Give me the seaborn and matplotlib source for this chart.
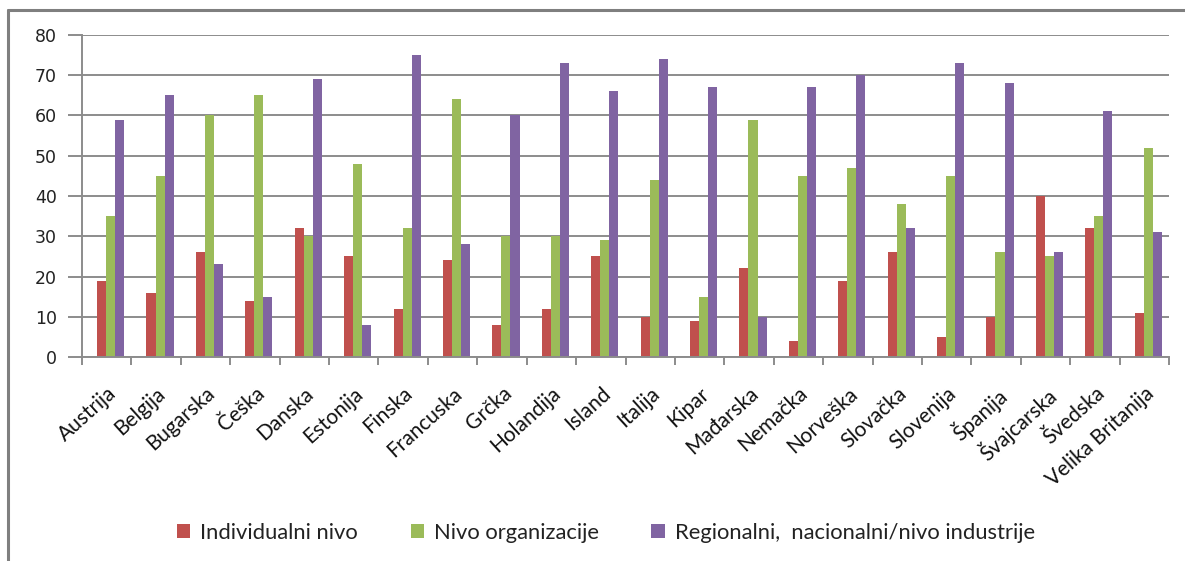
import matplotlib
matplotlib.use("Agg")
import matplotlib.pyplot as plt
import seaborn as sns
import pandas as pd
import numpy as np
from matplotlib.lines import Line2D
from matplotlib.patches import Patch

countries = ["Austrija", "Belgija", "Bugarska", "Češka", "Danska", "Estonija",
             "Finska", "Francuska", "Grčka", "Holandija", "Island", "Italija",
             "Kipar", "Mađarska", "Nemačka", "Norveška", "Slovačka", "Slovenija",
             "Španija", "Švajcarska", "Švedska", "Velika Britanija"]
individualni = [19, 16, 26, 14, 32, 25, 12, 24, 8, 12, 25, 10,
                9, 22, 4, 19, 26, 5, 10, 40, 32, 11]
organizacija = [35, 45, 60, 65, 30, 48, 32, 64, 30, 30, 29, 44,
                15, 59, 45, 47, 38, 45, 26, 25, 35, 52]
regionalni = [59, 65, 23, 15, 69, 8, 75, 28, 60, 73, 66, 74,
              67, 10, 67, 70, 32, 73, 68, 26, 61, 31]
series_names = ["Individualni nivo", "Nivo organizacije",
                "Regionalni,  nacionalni/nivo industrije"]
colors = ["#C0504D", "#9BBB59", "#8064A2"]
yticks = [0, 10, 20, 30, 40, 50, 60, 70, 80]

df = pd.DataFrame({
    "Zemlja": countries * 3,
    "Nivo": sum([[s] * len(countries) for s in series_names], []),
    "Vrednost": individualni + organizacija + regionalni,
})

sns.set_theme(style="white")
plt.rcParams["font.family"] = ["Lato", "DejaVu Sans"]

fig = plt.figure(figsize=(11.85, 5.61), dpi=100)
ax = fig.add_axes([82 / 1185, 1 - 357 / 561, (1169 - 82) / 1185, (357 - 35) / 561])

sns.barplot(data=df, x="Zemlja", y="Vrednost", hue="Nivo", order=countries,
            hue_order=series_names, palette=colors, width=0.55, gap=0,
            saturation=1, legend=False, ax=ax, edgecolor="none")

# bar clusters sit slightly right of the category centre
for bar in ax.patches:
    bar.set_x(bar.get_x() + 0.08)

ax.set_ylim(0, 80)
ax.set_xlim(-0.5, len(countries) - 0.5)
ax.set_yticks(yticks)
ax.set_yticklabels([str(v) for v in yticks], fontfamily="DejaVu Sans", fontsize=12.5,
                   color="#222222")
ax.yaxis.grid(True, color="#8c8c8c", linewidth=1.4)
ax.set_axisbelow(True)
ax.set_xlabel("")
ax.set_ylabel("")

for side in ["top", "right"]:
    ax.spines[side].set_visible(False)
for side in ["left", "bottom"]:
    ax.spines[side].set_color("#8c8c8c")
    ax.spines[side].set_linewidth(1.4)

ax.tick_params(axis="y", which="major", length=10, width=1.4, color="#8c8c8c",
               direction="out", pad=8, left=True)
ax.set_xticks(np.arange(len(countries)))
ax.set_xticklabels(countries, rotation=42, ha="right", rotation_mode="anchor",
                   fontsize=15, color="#111111")
ax.tick_params(axis="x", which="major", length=0, pad=19)
ax.set_xticks(np.arange(len(countries) + 1) - 0.5, minor=True)
ax.tick_params(axis="x", which="minor", length=6, width=1.4, color="#8c8c8c",
               direction="out", bottom=True)

handles = [Patch(facecolor=c, edgecolor="none") for c in colors]
fig.legend(handles, series_names, loc="center", ncol=3,
           bbox_to_anchor=(606 / 1185, 1 - 533 / 561), frameon=False,
           handlelength=0.6, handleheight=0.6, handletextpad=0.45,
           columnspacing=2.4, fontsize=15.8, labelcolor="#222222")

# outer chart frame
fig.add_artist(Line2D([8 / 1185, 8 / 1185], [0, 1 - 10 / 561],
                      transform=fig.transFigure, color="#7f7f7f", linewidth=2.2))
fig.add_artist(Line2D([8 / 1185, 1], [1 - 10 / 561, 1 - 10 / 561],
                      transform=fig.transFigure, color="#7f7f7f", linewidth=2.2))

fig.savefig("out.png", dpi=100)
